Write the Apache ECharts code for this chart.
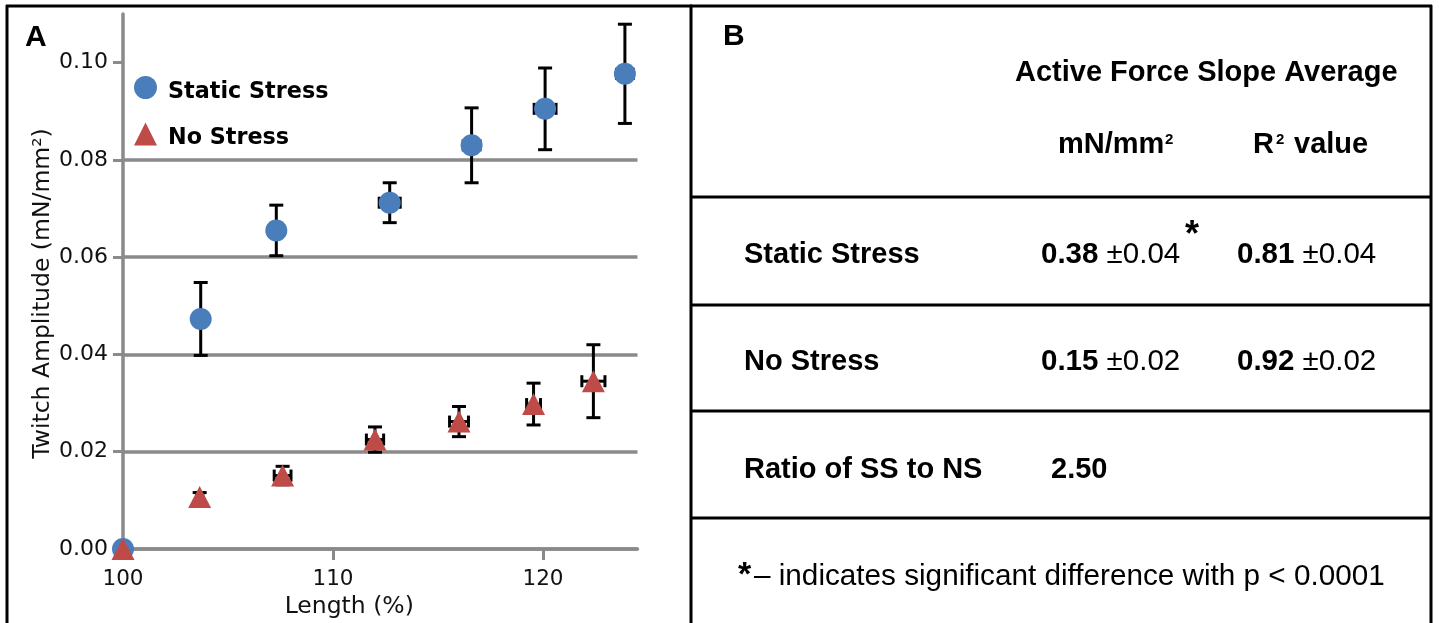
<!DOCTYPE html>
<html>
<head>
<meta charset="utf-8">
<title>Twitch amplitude vs. length</title>
<script src="https://cdn.jsdelivr.net/npm/echarts@6/dist/echarts.min.js"></script>
<style>
  html, body { margin: 0; padding: 0; background: #fff; }
  #chart { width: 1439px; height: 623px; }
</style>
</head>
<body>
<div id="chart"></div>
<script>
// Panel A: twitch amplitude (mean ± SD) against muscle length
const lengthSS    = [100, 103.7, 107.3, 112.7, 116.6, 120.1, 123.9];
const lengthErrSS = [0, 0.3, 0.35, 0.5, 0.4, 0.52, 0.4];
const ampSS       = [0, 0.0473, 0.0655, 0.0712, 0.0830, 0.0905, 0.0977];
const ampErrSS    = [0, 0.0075, 0.0052, 0.0041, 0.0077, 0.0084, 0.0102];

const lengthNS    = [100, 103.65, 107.6, 112.0, 116.0, 119.55, 122.4];
const lengthErrNS = [0, 0.15, 0.4, 0.41, 0.45, 0.33, 0.55];
const ampNS       = [0, 0.0107, 0.0151, 0.0225, 0.0262, 0.0298, 0.0345];
const ampErrNS    = [0, 0.0009, 0.0019, 0.0026, 0.0031, 0.0043, 0.0075];

const yTicks = [0, 0.02, 0.04, 0.06, 0.08, 0.10];
const xTicks = [100, 110, 120];

// Panel B: slope summary table
const groupNames = ['Static Stress', 'No Stress'];
const slopeMean  = ['0.38', '0.15'];
const slopeSD    = ['±0.04', '±0.02'];
const r2Mean     = ['0.81', '0.92'];
const r2SD       = ['±0.04', '±0.02'];
const ratioLabel = 'Ratio of SS to NS';
const ratioValue = '2.50';
const footnote   = '– indicates significant difference with p < 0.0001';

const BLUE = '#4A7EBB';
const RED = '#BE4B48';
const GRID_GREY = '#8A8A8A';
const LEFT_FONT = '"DejaVu Sans", sans-serif';
const TABLE_FONT = '"Liberation Sans", Arial, sans-serif';

function zip4(xs, ys, eys, exs) {
  return xs.map((x, i) => [x, ys[i], eys[i], exs[i]]);
}

// Vertical and horizontal error bars with caps, positioned through the axes
function renderErrorBar(params, api) {
  const x = api.value(0), y = api.value(1), ey = api.value(2), ex = api.value(3);
  const top = api.coord([x, y + ey]);
  const bot = api.coord([x, y - ey]);
  const lft = api.coord([x - ex, y]);
  const rgt = api.coord([x + ex, y]);
  const capW = 7, capH = 6;
  const style = { stroke: '#000', lineWidth: 3, fill: null };
  const line = (x1, y1, x2, y2) => ({ type: 'line', shape: { x1, y1, x2, y2 }, style });
  const children = [];
  if (ey > 0) {
    children.push(
      line(top[0], top[1], bot[0], bot[1]),
      line(top[0] - capW, top[1], top[0] + capW, top[1]),
      line(bot[0] - capW, bot[1], bot[0] + capW, bot[1])
    );
  }
  if (ex > 0) {
    children.push(
      line(lft[0], lft[1], rgt[0], rgt[1]),
      line(lft[0], lft[1] - capH, lft[0], lft[1] + capH),
      line(rgt[0], rgt[1] - capH, rgt[0], rgt[1] + capH)
    );
  }
  return { type: 'group', children };
}

function txt(text, x, y, size, weight, extra) {
  return {
    type: 'text', x, y, silent: true,
    style: Object.assign({
      text, fontFamily: TABLE_FONT, fontSize: size, fontWeight: weight,
      fill: '#000', align: 'left', verticalAlign: 'middle'
    }, extra || {})
  };
}

function valueCell(mean, sd, x, y) {
  return txt('{b|' + mean + '} {r|' + sd + '}', x, y, 29.5, 'normal', {
    rich: {
      b: { fontFamily: TABLE_FONT, fontSize: 29.5, fontWeight: 'bold', fill: '#000' },
      r: { fontFamily: TABLE_FONT, fontSize: 29.5, fontWeight: 'normal', fill: '#000' }
    }
  });
}

function hline(x1, x2, y) {
  return { type: 'line', silent: true, shape: { x1, y1: y, x2, y2: y }, style: { stroke: '#000', lineWidth: 3 } };
}
function vline(x, y1, y2) {
  return { type: 'line', silent: true, shape: { x1: x, y1, x2: x, y2 }, style: { stroke: '#000', lineWidth: 3 } };
}

// Panel frames and table rules
const frame = [
  hline(6, 692, 6),
  vline(7, 5, 630),
  hline(690, 1432, 6),
  vline(691, 5, 630),
  vline(1431, 5, 630),
  hline(690, 1432, 197),
  hline(690, 1432, 305),
  hline(690, 1432, 411),
  hline(690, 1432, 518)
];

// Table text
const tableText = [
  txt('A', 25, 38, 30, 'bold'),
  txt('B', 723, 37, 30, 'bold'),
  txt('Active Force Slope Average', 1015, 72.5, 29, 'bold'),
  txt('mN/mm', 1058, 145, 29, 'bold'),
  txt('2', 1165, 140, 15, 'bold'),
  txt('R', 1253, 145, 29, 'bold'),
  txt('2', 1276, 140, 15, 'bold'),
  txt('value', 1294, 145, 29, 'bold'),
  txt(groupNames[0], 744, 255, 29, 'bold'),
  valueCell(slopeMean[0], slopeSD[0], 1041, 255),
  txt('*', 1185, 236, 36, 'bold'),
  valueCell(r2Mean[0], r2SD[0], 1237, 255),
  txt(groupNames[1], 744, 362, 29, 'bold'),
  valueCell(slopeMean[1], slopeSD[1], 1041, 362),
  valueCell(r2Mean[1], r2SD[1], 1237, 362),
  txt(ratioLabel, 744, 469.5, 29, 'bold'),
  txt(ratioValue, 1051, 469.5, 29, 'bold'),
  txt('*', 738, 575.5, 34, 'bold'),
  txt(footnote, 754, 576.5, 29.7, 'normal')
];

const chart = echarts.init(document.getElementById('chart'), null, { renderer: 'canvas' });

chart.setOption({
  backgroundColor: '#fff',
  animation: false,
  grid: { left: 123, right: 801.5, top: 14, bottom: 74, containLabel: false, outerBoundsMode: 'none' },
  legend: {
    orient: 'vertical', left: 134, top: 76, padding: 0,
    itemGap: 19.5, itemWidth: 23, itemHeight: 23, selectedMode: false,
    data: [{ name: 'Static Stress', icon: 'circle' }, { name: 'No Stress', icon: 'triangle' }],
    formatter: name => '{t|' + name + '}',
    textStyle: {
      fontFamily: LEFT_FONT, fontWeight: 'bold', fontSize: 22.3, color: '#000',
      rich: {
        t: { fontFamily: LEFT_FONT, fontWeight: 'bold', fontSize: 22.3, color: '#000', padding: [9, 0, 0, 6] }
      }
    }
  },
  xAxis: {
    type: 'value', min: 100, max: 124.5, interval: 10,
    name: 'Length (%)', nameLocation: 'middle', nameGap: 43,
    nameTextStyle: { fontFamily: LEFT_FONT, fontSize: 23.5, color: '#111', padding: [0, 62, 0, 0] },
    axisLine: { show: true, onZero: false, lineStyle: { color: GRID_GREY, width: 3.5 } },
    axisTick: { show: true, length: 11, customValues: xTicks, lineStyle: { color: GRID_GREY, width: 3 } },
    axisLabel: { customValues: xTicks, margin: 19, fontFamily: LEFT_FONT, fontSize: 21.5, color: '#111' },
    splitLine: { show: false }
  },
  yAxis: {
    type: 'value', min: 0, max: 0.11, interval: 0.02,
    name: 'Twitch Amplitude (mN/mm²)', nameLocation: 'middle', nameGap: 63,
    nameTextStyle: { fontFamily: LEFT_FONT, fontSize: 23.5, color: '#111', padding: [0, 24, 0, 0] },
    axisLine: { show: true, onZero: false, lineStyle: { color: GRID_GREY, width: 3.5 } },
    axisTick: { show: true, length: 10, customValues: yTicks, lineStyle: { color: GRID_GREY, width: 3 } },
    axisLabel: {
      customValues: yTicks, margin: 15, fontFamily: LEFT_FONT, fontSize: 22, color: '#111',
      formatter: v => v.toFixed(2)
    },
    splitLine: {
      show: true, showMaxLine: false,
      lineStyle: { color: [GRID_GREY, GRID_GREY, GRID_GREY, GRID_GREY, GRID_GREY, GRID_GREY, 'transparent'], width: 3.5 }
    }
  },
  series: [
    {
      name: 'Static Stress error', type: 'custom', clip: false, silent: true,
      renderItem: renderErrorBar, encode: { x: 0, y: 1 },
      data: zip4(lengthSS, ampSS, ampErrSS, lengthErrSS)
    },
    {
      name: 'No Stress error', type: 'custom', clip: false, silent: true,
      renderItem: renderErrorBar, encode: { x: 0, y: 1 },
      data: zip4(lengthNS, ampNS, ampErrNS, lengthErrNS)
    },
    {
      name: 'Static Stress', type: 'scatter', clip: false,
      symbol: 'circle', symbolSize: 22,
      itemStyle: { color: BLUE, opacity: 1 },
      data: lengthSS.map((x, i) => [x, ampSS[i]])
    },
    {
      name: 'No Stress', type: 'scatter', clip: false,
      symbol: 'triangle', symbolSize: [23, 22],
      itemStyle: { color: RED, opacity: 1 },
      data: lengthNS.map((x, i) => [x, ampNS[i]])
    }
  ],
  graphic: { elements: frame.concat(tableText) }
});
</script>
</body>
</html>
